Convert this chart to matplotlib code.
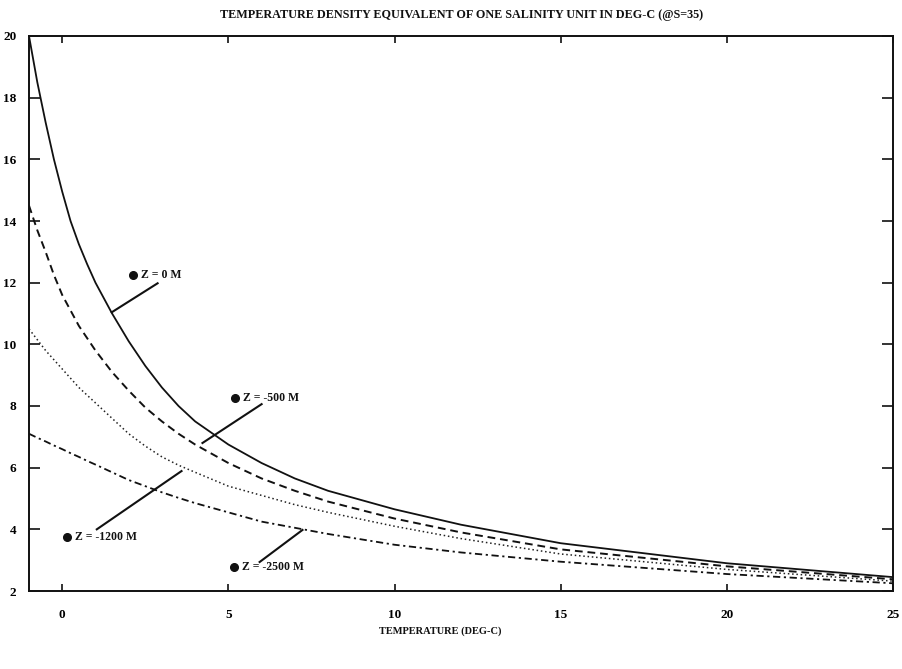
from matplotlib import pyplot as plt

# temperature (deg C) and density-equivalent values
temp = [-1, -0.75, -0.5, -0.25, 0, 0.25, 0.5, 0.75, 1, 1.5, 2, 2.5, 3, 3.5, 4, 5, 6, 7, 8, 10, 12, 15, 20, 25]
z_0 = [20.0, 18.5, 17.2, 16.0, 14.95, 14.0, 13.25, 12.6, 12.0, 11.0, 10.1, 9.3, 8.6, 8.0, 7.5,
       6.75, 6.15, 5.65, 5.25, 4.65, 4.15, 3.55, 2.9, 2.45]
z_500 = [14.5, 13.7, 13.0, 12.25, 11.6, 11.1, 10.6, 10.2, 9.8, 9.1, 8.5, 7.95, 7.5, 7.1, 6.75,
         6.15, 5.65, 5.25, 4.9, 4.35, 3.9, 3.35, 2.8, 2.38]
z_1200 = [10.5, 10.15, 9.8, 9.5, 9.2, 8.9, 8.6, 8.35, 8.1, 7.6, 7.1, 6.7, 6.35, 6.08, 5.85,
          5.4, 5.1, 4.8, 4.55, 4.1, 3.7, 3.2, 2.7, 2.32]
z_2500 = [7.1, 6.97, 6.85, 6.72, 6.6, 6.47, 6.35, 6.22, 6.1, 5.85, 5.6, 5.4, 5.2, 5.02, 4.85,
          4.55, 4.25, 4.05, 3.85, 3.5, 3.25, 2.95, 2.55, 2.25]

labels = ['Z = 0 M', 'Z = -500 M', 'Z = -1200 M', 'Z = -2500 M']
# dot position of each label, and leader line (start, end)
label_dots = [(2.12, 12.25), (5.19, 8.26), (0.14, 3.75), (5.16, 2.78)]
leaders = [((2.87, 11.98), (1.49, 11.04)),
           ((6.0, 8.06), (4.22, 6.8)),
           ((1.04, 4.0), (3.59, 5.89)),
           ((5.94, 2.94), (7.23, 3.98))]

x_ticks = [0, 5, 10, 15, 20, 25]
y_ticks = [2, 4, 6, 8, 10, 12, 14, 16, 18, 20]

serif = ['Liberation Serif', 'DejaVu Serif']

fig = plt.figure(figsize=(9.02, 6.69), dpi=100)
ax = fig.add_axes([29 / 902, 1 - 591 / 669, (893 - 29) / 902, (591 - 36) / 669])

ax.plot(temp, z_0, color='#111111', lw=1.3, ls='-', solid_joinstyle='round')
ax.plot(temp, z_500, color='#111111', lw=1.4, ls=(0, (4, 2.5)))
ax.plot(temp, z_1200, color='#222222', lw=1.1, ls=(0, (1, 1.8)))
ax.plot(temp, z_2500, color='#111111', lw=1.3, ls=(0, (4, 2, 1.2, 2)))

for lab, (dx, dy), (p0, p1) in zip(labels, label_dots, leaders):
    ax.plot([dx], [dy], 'o', color='#111111', ms=5.5)
    ax.text(dx + 0.25, dy, lab, fontsize=8.5, fontweight='bold', family=serif,
            va='center', ha='left', color='#111111')
    ax.plot([p0[0], p1[0]], [p0[1], p1[1]], color='#111111', lw=1.5)

ax.set_xlim(-1, 25)
ax.set_ylim(2, 20)
ax.set_xticks(x_ticks)
ax.set_yticks(y_ticks)
ax.set_xticklabels([str(t) for t in x_ticks], fontsize=9.5, fontweight='bold', family=serif)
ax.set_yticklabels([str(t) for t in y_ticks], fontsize=9.5, fontweight='bold', family=serif)
ax.tick_params(axis='x', direction='in', length=5, width=1.2, pad=13, top=True, color='#111111')
ax.tick_params(axis='y', direction='in', length=8, width=1.2, pad=9, right=True, color='#111111')
for s in ax.spines.values():
    s.set_linewidth(1.4)
    s.set_color('#111111')

fig.text(0.512, 1 - 15 / 669, 'TEMPERATURE DENSITY EQUIVALENT OF ONE SALINITY UNIT IN DEG-C (@S=35)',
         ha='center', va='center', fontsize=8.7, fontweight='bold', family=serif, color='#111111')
fig.text(440 / 902, 1 - 631 / 669, 'TEMPERATURE (DEG-C)', ha='center', va='center',
         fontsize=7.5, fontweight='bold', family=serif, color='#111111')

plt.savefig('out.png', dpi=100)
